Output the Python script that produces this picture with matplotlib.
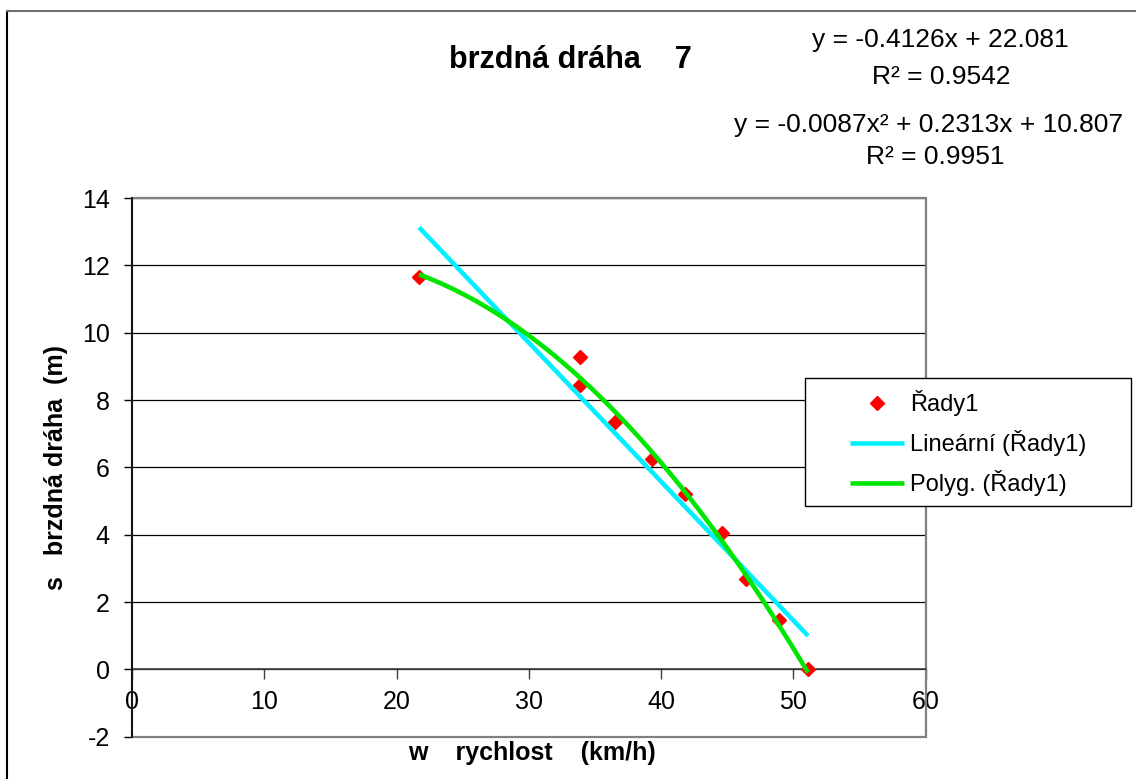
import matplotlib
matplotlib.use("Agg")
import matplotlib.pyplot as plt
import numpy as np
from matplotlib.lines import Line2D
from matplotlib.patches import Rectangle

plt.rcParams['font.family'] = ['Liberation Sans', 'DejaVu Sans']
plt.rcParams['axes.unicode_minus'] = False

# ---- data ----
speed = [21.7, 33.9, 33.9, 36.5, 39.3, 41.8, 44.6, 46.4, 48.9, 51.1]
distance = [11.65, 9.27, 8.44, 7.34, 6.24, 5.22, 4.04, 2.67, 1.48, 0.0]
lin_coef = [-0.4126, 22.081]
quad_coef = [-0.0087, 0.2313, 10.807]
x_ticks = [0, 10, 20, 30, 40, 50, 60]
y_ticks = [-2, 0, 2, 4, 6, 8, 10, 12, 14]
series_labels = ["Řady1", "Lineární (Řady1)", "Polyg. (Řady1)"]
title = "brzdná dráha    7"
eq1 = ["y = -0.4126x + 22.081", "R² = 0.9542"]
eq2 = ["y = -0.0087x² + 0.2313x + 10.807", "R² = 0.9951"]
xlabel = "w    rychlost    (km/h)"
ylabel = "s   brzdná dráha  (m)"

W, H = 1136, 779
def fx(px): return px / W
def fy(py): return 1 - py / H

fig = plt.figure(figsize=(W / 100, H / 100), dpi=100)
L, R, T, B = 132, 925.7, 198, 736.7
ax = fig.add_axes([fx(L), fy(B), (R - L) / W, (B - T) / H])

cyan = '#00F0FF'
green = '#00E600'

xs = np.linspace(min(speed), max(speed), 300)
pts, = ax.plot(speed, distance, ls='none', marker='D', color='red',
               markersize=7, zorder=3, label=series_labels[0])
lin, = ax.plot(xs, np.polyval(lin_coef, xs), color=cyan, lw=3.3,
               zorder=4, label=series_labels[1], solid_capstyle='butt')
quad, = ax.plot(xs, np.polyval(quad_coef, xs), color=green, lw=3.3,
                zorder=5, label=series_labels[2], solid_capstyle='butt')

ax.set_xlim(0, 60)
ax.set_ylim(-2, 14)
ax.set_xticks(x_ticks)
ax.set_yticks(y_ticks)
ax.yaxis.grid(True, color='black', lw=0.9)
ax.set_axisbelow(True)

for s in ['top', 'right']:
    ax.spines[s].set_visible(False)
ax.spines['left'].set_color('black')
ax.spines['left'].set_linewidth(1.2)
ax.spines['left'].set_zorder(6)
ax.spines['bottom'].set_position(('data', 0))
ax.spines['bottom'].set_color('#404040')
ax.spines['bottom'].set_linewidth(1.2)

ax.add_patch(Rectangle((0, 0), 1, 1, transform=ax.transAxes, fill=False,
                       edgecolor='#808080', lw=1.6, clip_on=False, zorder=2))

ax.tick_params(axis='x', direction='out', length=7, width=1, color='#404040',
               labelsize=18, pad=8)
ax.tick_params(axis='y', direction='out', length=6, width=1, color='black',
               labelsize=18, pad=10)

ax.set_xlabel(xlabel, fontsize=18, fontweight='bold', va='center')
ax.xaxis.set_label_coords((532 - L) / (R - L), (B - 753) / (B - T))
ax.set_ylabel(ylabel, fontsize=18, fontweight='bold', va='center')
ax.yaxis.set_label_coords((56 - L) / (R - L), (B - 468) / (B - T))

# title and equations
fig.text(fx(449), fy(60), title, fontsize=22, fontweight='bold',
         ha='left', va='center')
fig.text(fx(940), fy(40), eq1[0], fontsize=19, ha='center', va='center')
fig.text(fx(941), fy(77), eq1[1], fontsize=19, ha='center', va='center')
fig.text(fx(929), fy(125), eq2[0], fontsize=19, ha='center', va='center')
fig.text(fx(935), fy(157), eq2[1], fontsize=19, ha='center', va='center')

# legend frame + legend
fig.add_artist(Rectangle((fx(805), fy(506)), (1131 - 805) / W, (506 - 378) / H,
                         transform=fig.transFigure, facecolor='white',
                         edgecolor='black', lw=1.0, zorder=1))
fig.legend(handles=[pts, lin, quad], labels=series_labels, loc='center',
           bbox_to_anchor=(fx(968), fy(443)), frameon=False, fontsize=17,
           handlelength=2.3, handletextpad=0.25, labelspacing=0.6,
           numpoints=1)

# chart area border (left and top visible)
fig.add_artist(Line2D([fx(7), fx(7)], [fy(11), 0], transform=fig.transFigure,
                      color='black', lw=1.5))
fig.add_artist(Line2D([fx(7), 1], [fy(11), fy(11)], transform=fig.transFigure,
                      color='#707070', lw=1.5))

fig.savefig('out.png', dpi=100)
